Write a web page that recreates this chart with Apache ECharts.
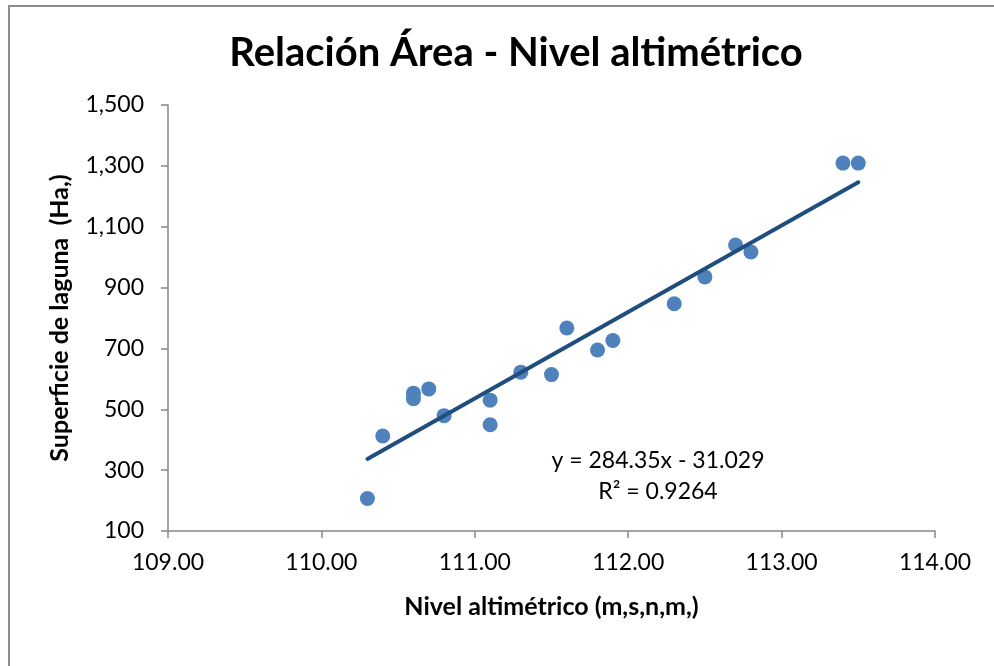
<!DOCTYPE html>
<html>
<head>
<meta charset="utf-8">
<script src="https://cdn.jsdelivr.net/npm/echarts@6/dist/echarts.min.js"></script>
<style>
html,body{margin:0;padding:0;background:#fff;}
#chart{width:994px;height:666px;}
</style>
</head>
<body>
<div id="chart"></div>
<script>
// Data
const nivel = [110.3, 110.4, 110.6, 110.6, 110.7, 110.8, 111.1, 111.1, 111.3, 111.5, 111.6, 111.8, 111.9, 112.3, 112.5, 112.7, 112.8, 113.4, 113.5];
const superficie = [207, 412, 553, 535, 567, 479, 530, 449, 622, 614, 767, 695, 726, 847, 935, 1040, 1017, 1309, 1309];
const trendX = [110.3, 113.5];
const trendY = [337, 1246];
const xTicks = { min: 109, max: 114, interval: 1 };
const yTicks = { min: 100, max: 1500, interval: 200 };
const titleText = 'Relación Área - Nivel altimétrico';
const xName = 'Nivel altimétrico (m,s,n,m,)';
const yName = 'Superficie de laguna  (Ha,)';
const eqLines = ['y = 284.35x - 31.029', 'R² = 0.9264'];

const FONT = 'Lato, "Open Sans", sans-serif';
const chart = echarts.init(document.getElementById('chart'));
const points = nivel.map((x, i) => [x, superficie[i]]);
const trend = trendX.map((x, i) => [x, trendY[i]]);
const axisGray = '#868686';

chart.setOption({
  animation: false,
  backgroundColor: '#fff',
  title: {
    text: titleText,
    left: 511, top: 28, textAlign: 'center',
    textStyle: { fontFamily: FONT, fontWeight: 'bold', fontSize: 40, color: '#000' }
  },
  grid: { left: 168, right: 59, top: 105, bottom: 135 },
  xAxis: {
    type: 'value', min: xTicks.min, max: xTicks.max, interval: xTicks.interval,
    name: xName, nameLocation: 'middle', nameGap: 63,
    nameTextStyle: { fontFamily: FONT, fontWeight: 'bold', fontSize: 25, color: '#000' },
    axisLine: { show: true, lineStyle: { color: axisGray, width: 1.5 } },
    axisTick: { show: true, length: 7, lineStyle: { color: axisGray, width: 1.5 } },
    axisLabel: { formatter: v => v.toFixed(2), fontFamily: FONT, fontSize: 23, color: '#000', margin: 20 },
    splitLine: { show: false }
  },
  yAxis: {
    type: 'value', min: yTicks.min, max: yTicks.max, interval: yTicks.interval,
    name: yName, nameLocation: 'middle', nameGap: 96, nameRotate: 90,
    nameTextStyle: { fontFamily: FONT, fontWeight: 'bold', fontSize: 25, color: '#000' },
    axisLine: { show: true, lineStyle: { color: axisGray, width: 1.5 } },
    axisTick: { show: true, length: 7, lineStyle: { color: axisGray, width: 1.5 } },
    axisLabel: { formatter: v => v.toLocaleString('en-US'), fontFamily: FONT, fontSize: 23, color: '#000', margin: 24 },
    splitLine: { show: false }
  },
  series: [
    {
      type: 'line', data: trend, symbol: 'none', z: 3,
      lineStyle: { color: '#1F4E7E', width: 4, cap: 'round' }
    },
    {
      type: 'scatter', data: points, symbolSize: 15, z: 2,
      itemStyle: { color: '#4F81BD', opacity: 1 }
    }
  ],
  graphic: [
    { type: 'rect', shape: { x: 9, y: 6, width: 1100, height: 800 }, style: { fill: 'none', stroke: '#8c8c8c', lineWidth: 2 }, silent: true },
    { type: 'text', x: 658, y: 461, style: { text: eqLines[0], fontFamily: FONT, fontSize: 23, fill: '#000', align: 'center', verticalAlign: 'middle' } },
    { type: 'text', x: 658, y: 492, style: { text: eqLines[1], fontFamily: FONT, fontSize: 23, fill: '#000', align: 'center', verticalAlign: 'middle' } }
  ]
});
</script>
</body>
</html>
